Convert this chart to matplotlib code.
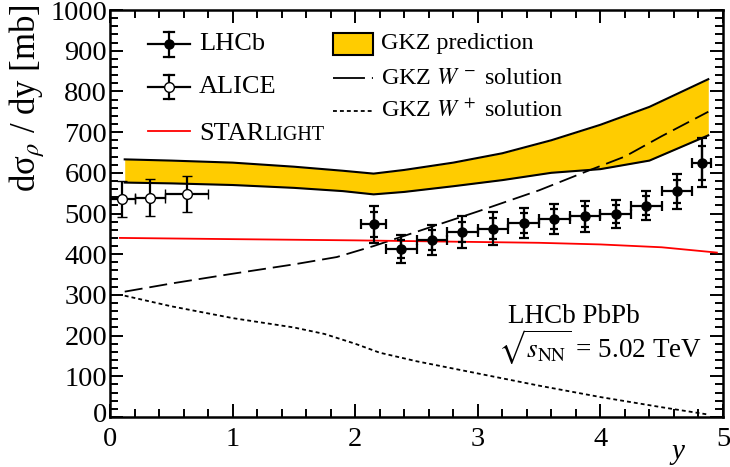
import numpy as np
import matplotlib
matplotlib.use("Agg")
import matplotlib.pyplot as plt
from matplotlib.patches import Rectangle
from matplotlib.lines import Line2D
from matplotlib.transforms import ScaledTranslation

plt.rcParams['font.family'] = ['Liberation Serif', 'DejaVu Serif']
plt.rcParams['mathtext.fontset'] = 'stix'
plt.rcParams['lines.scale_dashes'] = False

# ---------------- data ----------------
# LHCb
lhcb_y = [2.15, 2.375, 2.625, 2.875, 3.125, 3.375, 3.625, 3.875, 4.125, 4.375, 4.625, 4.825]
lhcb_edges = [2.05, 2.25, 2.5, 2.75, 3.0, 3.25, 3.5, 3.75, 4.0, 4.25, 4.5, 4.75, 4.9]
lhcb_val = [473, 413, 435, 454, 463, 477, 487, 493, 498, 519, 555, 625]
lhcb_tot = [45, 35, 36, 39, 40, 37, 37, 38, 34, 36, 43, 61]
lhcb_stat = [30, 23, 24, 25, 26, 24, 24, 25, 22, 23, 28, 42]

# ALICE
alice_y = [0.1, 0.325, 0.625]
alice_edges = [0.0, 0.2, 0.45, 0.8]
alice_val = [536, 539, 548]
alice_err = [45, 45, 45]

# GKZ prediction band
gkz_y = [0.12, 0.5, 1.0, 1.5, 1.9, 2.15, 2.4, 2.8, 3.2, 3.6, 4.0, 4.4, 4.88]
gkz_hi = [633, 630, 625, 615, 605, 598, 607, 625, 648, 680, 718, 762, 830]
gkz_lo = [576, 574, 570, 563, 555, 547, 553, 567, 582, 600, 609, 630, 692]

# GKZ W- solution
wm_y = [0.12, 0.5, 1.0, 1.5, 1.85, 2.15, 2.5, 3.0, 3.5, 3.9, 4.2, 4.5, 4.88]
wm_val = [308, 328, 352, 375, 393, 420, 455, 505, 557, 605, 640, 690, 750]

# GKZ W+ solution
wp_y = [0.12, 0.5, 1.0, 1.5, 1.75, 2.0, 2.2, 2.5, 3.0, 3.5, 4.0, 4.5, 4.88]
wp_val = [298, 272, 243, 220, 204, 180, 158, 137, 107, 77, 49, 24, 6]

# STARLIGHT
sl_y = [0.08, 1.0, 2.0, 3.0, 3.5, 4.0, 4.5, 4.95]
sl_val = [440, 437, 434, 430, 428, 424, 417, 404]

# ---------------- figure ----------------
fig = plt.figure(figsize=(7.3, 4.67), dpi=100)
ax = fig.add_axes([110/730, 50/467, 613/730, 407/467])

DASH_WM = (13, 5)
DASH_WP = (2.8, 2.2)

ax.fill_between(gkz_y, gkz_lo, gkz_hi, color='#ffcc00', lw=0, zorder=1)
ax.plot(gkz_y, gkz_hi, color='k', lw=1.5, zorder=2)
ax.plot(gkz_y, gkz_lo, color='k', lw=1.5, zorder=2)

ax.plot(wm_y, wm_val, color='k', lw=1.3, dashes=DASH_WM, zorder=3)
ax.plot(wp_y, wp_val, color='k', lw=1.3, dashes=DASH_WP, zorder=3)
ax.plot(sl_y, sl_val, color='#ff0000', lw=1.3, zorder=3)

le = np.array(lhcb_edges)
lx = np.array(lhcb_y)
xerr_l = [lx - le[:-1], le[1:] - lx]
ax.errorbar(lhcb_y, lhcb_val, xerr=xerr_l, yerr=lhcb_tot, fmt='o', color='k',
            ms=6.5, capsize=3.5, elinewidth=1.6, capthick=1.6, zorder=5)
ax.errorbar(lhcb_y, lhcb_val, yerr=lhcb_stat, fmt='none', ecolor='k',
            capsize=3.0, elinewidth=1.6, capthick=1.6, zorder=5)

ae = np.array(alice_edges)
axx = np.array(alice_y)
xerr_a = [axx - ae[:-1], ae[1:] - axx]
ax.errorbar(alice_y, alice_val, xerr=xerr_a, yerr=alice_err, fmt='o', color='k',
            mfc='white', mec='k', mew=1.0, ms=7, capsize=3.5, elinewidth=1.6,
            capthick=1.6, zorder=5)

ax.set_xlim(0, 5)
ax.set_ylim(0, 1000)
ax.set_xticks(np.arange(0, 6, 1))
ax.set_xticks(np.arange(0, 5.01, 0.2), minor=True)
ax.set_yticks(np.arange(0, 1001, 100))
ax.set_yticks(np.arange(0, 1001, 20), minor=True)
for s in ax.spines.values():
    s.set_linewidth(1.8)
ax.tick_params(which='both', direction='in', top=True, right=True, width=1.4,
               labelsize=20.5)
ax.tick_params(which='major', length=9.5)
ax.tick_params(which='minor', length=5.5)
ax.tick_params(axis='x', pad=7)
ax.tick_params(axis='y', pad=2)
# lift the y-axis "0" slightly like the reference
lab0 = ax.get_yticklabels()[0]
lab0.set_transform(lab0.get_transform() + ScaledTranslation(0, 4/100, fig.dpi_scale_trans))

ax.text(-0.135, 1.014, r'dσ$_{\rho}$ / dy [mb]', transform=ax.transAxes,
        rotation=90, ha='center', va='top', fontsize=25)
ax.text(0.927, -0.086, 'y', transform=ax.transAxes, ha='center', va='center',
        fontsize=21, style='italic')

ax.text(0.649, 0.231, 'LHCb PbPb', transform=ax.transAxes, ha='left',
        va='baseline', fontsize=19.5)
ax.text(0.966, 0.145, r'$\sqrt{s_{\mathrm{NN}}}$ = 5.02 TeV', transform=ax.transAxes,
        ha='right', va='baseline', fontsize=19.5)

# ---------------- legend ----------------
T = ax.transAxes
def ax_x(px):
    return (px - 110) / 613
def ax_y(py):
    return (417 - py) / 407

hx0, hx1, hxc = ax_x(148), ax_x(190), ax_x(169)
tx = ax_x(199)
for py, filled in [(44, True), (87, False)]:
    yc = ax_y(py)
    dy = 12.5 / 407
    ax.add_line(Line2D([hx0, hx1], [yc, yc], transform=T, color='k', lw=1.6))
    ax.add_line(Line2D([hxc, hxc], [yc - dy, yc + dy], transform=T, color='k', lw=1.6))
    cw = 5 / 613
    for yy in (yc - dy, yc + dy):
        ax.add_line(Line2D([hxc - cw, hxc + cw], [yy, yy], transform=T, color='k', lw=1.6))
    ax.add_line(Line2D([hxc], [yc], transform=T, marker='o', ms=6.5 if filled else 7,
                       mfc='k' if filled else 'white', mec='k', mew=1.0, ls='none'))
ax.text(tx, ax_y(44), 'LHCb', transform=T, ha='left', va='center', fontsize=19)
ax.text(tx, ax_y(87), 'ALICE', transform=T, ha='left', va='center', fontsize=19)
ax.add_line(Line2D([hx0, hx1], [ax_y(131), ax_y(131)], transform=T, color='#ff0000', lw=1.3))
t_star = ax.text(tx, ax_y(139.5), 'STAR', transform=T, ha='left', va='baseline', fontsize=19)
fig.canvas.draw()
bb = t_star.get_window_extent(renderer=fig.canvas.get_renderer())
x_end = T.inverted().transform((bb.x1, bb.y0))[0]
ax.text(x_end, ax_y(139.5), 'LIGHT', transform=T, ha='left', va='baseline', fontsize=14.5)

bx0, bx1 = ax_x(333), ax_x(373)
ax.add_patch(Rectangle((bx0, ax_y(55)), bx1 - bx0, ax_y(33) - ax_y(55), transform=T,
                       facecolor='#ffcc00', edgecolor='k', lw=1.5, clip_on=False))
tx2 = ax_x(381)
FS2 = 17.3
ax.text(tx2, ax_y(44), 'GKZ prediction', transform=T, ha='left', va='center', fontsize=FS2)
ax.add_line(Line2D([bx0, bx1], [ax_y(78), ax_y(78)], transform=T, color='k', lw=1.3,
                   dashes=(23, 5)))
ax.text(tx2, ax_y(78), r'GKZ $W^{\,-}$ solution', transform=T, ha='left', va='center', fontsize=FS2)
ax.add_line(Line2D([bx0, bx1], [ax_y(111), ax_y(111)], transform=T, color='k', lw=1.3,
                   dashes=DASH_WP))
ax.text(tx2, ax_y(111), r'GKZ $W^{\,+}$ solution', transform=T, ha='left', va='center', fontsize=FS2)

fig.savefig('out.png', dpi=100)
